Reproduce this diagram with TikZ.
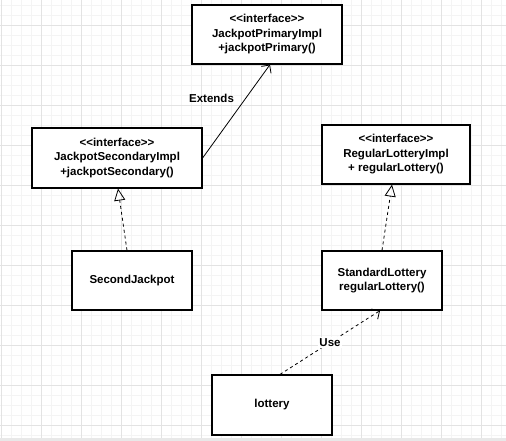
\documentclass[tikz,border=0pt]{standalone}
\usepackage{fontspec}
\setmainfont{Liberation Sans}
\usetikzlibrary{arrows.meta,positioning,calc}
\definecolor{gridminor}{HTML}{F4F4F4}
\definecolor{gridmajor}{HTML}{E3E3E3}
\definecolor{canvasedge}{HTML}{E8E8E8}
\newcommand{\umlstereo}[1]{<\kern0pt<#1>\kern0pt>}

\begin{document}
\begin{tikzpicture}[x=1pt, y=-1pt, font=\fontsize{11.5}{14.5}\selectfont\bfseries,
  umlbox/.style={draw, line width=1.2pt, fill=white, align=center, inner sep=0pt},
  link/.style={line width=0.8pt},
  realize/.style={link, dash pattern=on 3pt off 3pt, -{Triangle[open, length=12pt, width=11pt]}},
  extend/.style={link, -{Straight Barb[length=6pt, width=12pt]}},
  uses/.style={link, dash pattern=on 3pt off 3pt, -{Straight Barb[length=6pt, width=12pt]}}]
  % Canvas and grid
  \useasboundingbox (0,0) rectangle (506,441);
  \fill[white] (0,0) rectangle (506,441);
  \foreach \gx in {1,11,...,501} \draw[gridminor, line width=0.6pt] (\gx,0) -- (\gx,441);
  \foreach \gy in {5,15,...,435} \draw[gridminor, line width=0.6pt] (0,\gy) -- (506,\gy);
  \foreach \gx in {1,41,...,481} \draw[gridmajor, line width=0.7pt] (\gx,0) -- (\gx,441);
  \foreach \gy in {25,65,...,425} \draw[gridmajor, line width=0.7pt] (0,\gy) -- (506,\gy);
  \fill[canvasedge] (0,438) rectangle (506,441);

  % Interfaces
  \node[umlbox, minimum width=150pt, minimum height=59pt] (primimpl) at (267,34.5)
    {\umlstereo{interface}\\JackpotPrimaryImpl\\+jackpotPrimary()};
  \node[umlbox, minimum width=170pt, minimum height=60pt] (secimpl) at (117,158)
    {\umlstereo{interface}\\JackpotSecondaryImpl\\+jackpotSecondary()};
  \node[umlbox, minimum width=148pt, minimum height=59pt] (regimpl) at (396,154.5)
    {\umlstereo{interface}\\RegularLotteryImpl\\+ regularLottery()};

  % Classes
  \node[umlbox, minimum width=120pt, minimum height=59pt] (secjackpot) at (132,280.5) {SecondJackpot};
  \node[umlbox, minimum width=120pt, minimum height=59pt] (stdlottery) at (382,280.5) {StandardLottery\\regularLottery()};
  \node[umlbox, minimum width=120pt, minimum height=60pt] (lottery) at (272,405) {lottery};

  % Relations
  \draw[extend] (secimpl.east) -- ([xshift=3pt]primimpl.south)
    node[midway, above left, inner sep=1pt, xshift=-1pt, yshift=7pt] (extlabel) {Extends};
  \draw[realize] ([xshift=-5pt]secjackpot.north) -- ([xshift=1pt]secimpl.south);
  \draw[realize] (stdlottery.north) -- ([xshift=-4pt]regimpl.south);
  \draw[uses] ([xshift=8pt]lottery.north) -- ([xshift=-2pt]stdlottery.south)
    node[midway, fill=white, inner sep=1pt] (uselabel) {Use};
\end{tikzpicture}
\end{document}
